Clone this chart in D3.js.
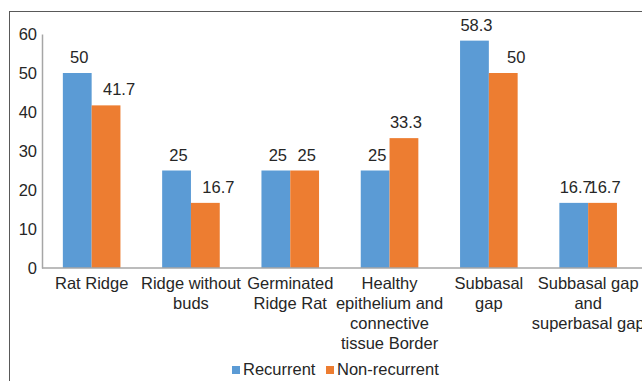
<!DOCTYPE html>
<html>
<head>
<meta charset="utf-8">
<script src="https://cdn.jsdelivr.net/npm/d3@7"></script>
<style>
  body { margin: 0; background: #fff; }
  text { font-family: "Liberation Sans", Arial, sans-serif; fill: #262626; }
</style>
</head>
<body>
<div id="chart"></div>
<script>
var categories = ["Rat Ridge", "Ridge without\nbuds", "Germinated\nRidge Rat",
                  "Healthy\nepithelium and\nconnective\ntissue Border",
                  "Subbasal\ngap", "Subbasal gap\nand\nsuperbasal gap"];
var seriesNames = ["Recurrent", "Non-recurrent"];
var recurrent = [50, 25, 25, 25, 58.3, 16.7];
var nonRecurrent = [41.7, 16.7, 25, 33.3, 50, 16.7];
var yTicks = [0, 10, 20, 30, 40, 50, 60];

function main() {
    var width = 642, height = 381;
    var colors = ["#5B9BD5", "#ED7D31"];
    var fs = "16.5px";
    var svg = d3.select("#chart").append("svg")
                .attr("width", width).attr("height", height);

    // outer frame
    svg.append("rect").attr("x", 9.5).attr("y", 11.5)
        .attr("width", 700).attr("height", 400)
        .attr("fill", "none").attr("stroke", "#595959").attr("stroke-width", 1);

    var left = 42, bottom = 268;
    var x = d3.scaleBand().domain(d3.range(categories.length))
              .range([left, left + 6 * 99.3]).paddingInner(0.42).paddingOuter(0.21);
    var xs = d3.scaleBand().domain([0, 1]).range([0, x.bandwidth()]);
    var y = d3.scaleLinear().domain([0, 60]).range([bottom, 34]);

    var rows = categories.map(function(c, i) {
        return {i: i, vals: [recurrent[i], nonRecurrent[i]]};
    });

    var groups = svg.append("g").selectAll("g").data(rows).enter().append("g")
        .attr("transform", function(d) { return "translate(" + x(d.i) + ",0)"; });
    groups.selectAll("rect").data(function(d) { return d.vals; }).enter().append("rect")
        .attr("x", function(d, j) { return xs(j); })
        .attr("y", function(d) { return y(d); })
        .attr("width", xs.bandwidth())
        .attr("height", function(d) { return bottom - y(d); })
        .attr("fill", function(d, j) { return colors[j]; });
    // value labels: orange label nudged right when the blue bar is taller
    groups.each(function(row) {
        d3.select(this).selectAll("text").data(row.vals).enter().append("text")
            .attr("x", function(d, j) {
                var nudge = (j == 1 && row.vals[0] > row.vals[1]) ? 13 : 2;
                return xs(j) + xs.bandwidth() / 2 + nudge;
            })
            .attr("y", function(d) { return y(d) - 10; })
            .attr("text-anchor", "middle").style("font-size", fs)
            .text(function(d) { return d; });
    });

    // y axis
    var yAxis = svg.append("g").attr("transform", "translate(" + left + ",0)")
        .call(d3.axisLeft(y).tickValues(yTicks).tickSize(0).tickPadding(5));
    yAxis.select(".domain").attr("stroke", "#a6a6a6").attr("stroke-width", 1.5);
    yAxis.selectAll("text").style("font-size", fs).attr("fill", "#262626")
        .style("font-family", "Liberation Sans, Arial, sans-serif");

    // x axis line
    svg.append("line").attr("x1", left).attr("x2", width)
        .attr("y1", bottom).attr("y2", bottom)
        .attr("stroke", "#a6a6a6").attr("stroke-width", 1.5);

    // category labels
    var labels = svg.append("g").selectAll("text").data(categories).enter().append("text")
        .attr("text-anchor", "middle").style("font-size", fs)
        .attr("transform", function(d, i) {
            return "translate(" + (x(i) + x.bandwidth() / 2) + "," + (bottom + 21) + ")";
        });
    labels.each(function(d) {
        var t = d3.select(this);
        d.split("\n").forEach(function(line, k) {
            t.append("tspan").attr("x", 0).attr("y", k * 20).text(line);
        });
    });

    // legend
    var legendX = [232, 326];
    var legend = svg.append("g").selectAll("g").data(seriesNames).enter().append("g")
        .attr("transform", function(d, i) { return "translate(" + legendX[i] + ",366)"; });
    legend.append("rect").attr("width", 8).attr("height", 8)
        .attr("fill", function(d, i) { return colors[i]; });
    legend.append("text").attr("x", 11).attr("y", 9).style("font-size", fs)
        .text(function(d) { return d; });
}
main();
</script>
</body>
</html>
